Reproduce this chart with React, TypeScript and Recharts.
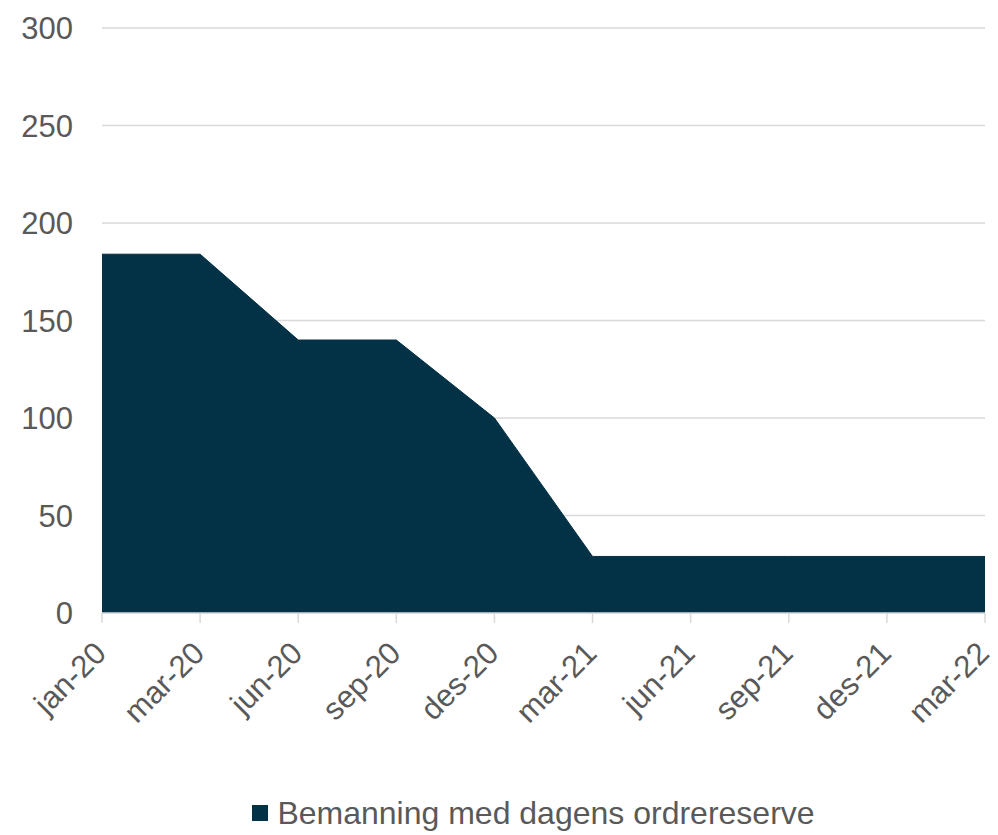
import { AreaChart, Area, XAxis, YAxis, CartesianGrid, Legend } from 'recharts';

const months = ['jan-20', 'mar-20', 'jun-20', 'sep-20', 'des-20', 'mar-21', 'jun-21', 'sep-21', 'des-21', 'mar-22'];
const staffing = [184, 184, 140, 140, 100, 29, 29, 29, 29, 29];
const yTicks = [0, 50, 100, 150, 200, 250, 300];

const data = months.map((m, i) => ({ month: m, value: staffing[i] }));

const FONT = '"Liberation Sans", Arial, sans-serif';
const TEXT = '#595959';
const FILL = '#033145';
const SERIES = 'Bemanning med dagens ordrereserve';

// rotated month label, anchored just right of and below the tick mark
const MonthTick = (props: any) => {
  const { x, y, payload } = props;
  const ax = x + 6;
  const ay = y + 32;
  return (
    <text
      x={ax}
      y={ay}
      transform={`rotate(-45, ${ax}, ${ay})`}
      textAnchor="end"
      fontSize={31}
      fontFamily={FONT}
      fill={TEXT}
    >
      {payload.value}
    </text>
  );
};

const LegendBox = () => (
  <div style={{ display: 'flex', justifyContent: 'center', alignItems: 'center', fontFamily: FONT, fontSize: 32, color: TEXT, lineHeight: '36px', paddingLeft: 82 }}>
    <span style={{ display: 'inline-block', width: 16, height: 16, background: FILL, marginRight: 9 }} />
    <span>{SERIES}</span>
  </div>
);

export default function App() {
  return (
    <div style={{ position: 'absolute', left: 0, top: 0, width: 998, height: 835, background: '#fff' }}>
      <AreaChart width={998} height={835} data={data} margin={{ top: 28, right: 13, bottom: 4, left: 0 }}>
        <CartesianGrid vertical={false} stroke="#d9d9d9" strokeWidth={1.5} />
        <XAxis
          dataKey="month"
          interval={0}
          height={182}
          stroke="#d9d9d9"
          strokeWidth={1.5}
          tickSize={10}
          tickMargin={0}
          tick={<MonthTick />}
        />
        <YAxis
          domain={[0, 300]}
          ticks={yTicks}
          width={102}
          axisLine={false}
          tickLine={false}
          tickSize={27}
          tickMargin={2}
          tick={{ fontSize: 31, fontFamily: FONT, fill: TEXT }}
        />
        <Legend verticalAlign="bottom" align="center" height={36} content={<LegendBox />} />
        <Area
          type="linear"
          dataKey="value"
          name={SERIES}
          stroke={FILL}
          fill={FILL}
          fillOpacity={1}
          isAnimationActive={false}
        />
      </AreaChart>
    </div>
  );
}
